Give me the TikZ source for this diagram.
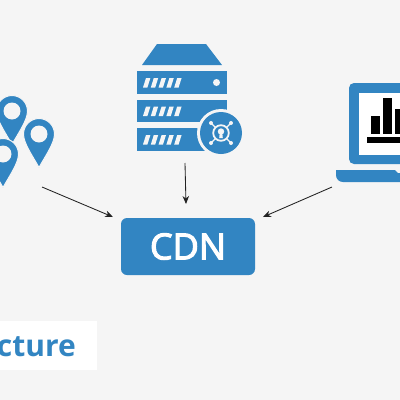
\documentclass[tikz,border=0pt]{standalone}
\usepackage{fontspec}
\setmainfont{Open Sans}
\newfontfamily\cdnfont[FakeBold=3]{Open Sans}
\definecolor{brandblue}{HTML}{3285C2}
\definecolor{pagebg}{HTML}{F5F5F5}
\definecolor{arrowgrey}{HTML}{222222}
\usetikzlibrary{arrows.meta}
\tikzset{
  conn/.style={draw=arrowgrey,line width=0.85pt,-{Stealth[length=8pt,width=6.5pt]}},
  blue/.style={fill=brandblue,draw=none},
  slatfill/.style={fill=pagebg,draw=none},
  pics/mappin/.style={code={
    \path[fill=brandblue,draw=pagebg,line width=1pt]
      (-15.5,0) .. controls (-15.5,-8.5) and (-8.5,-15.5) .. (0,-15.5)
      .. controls (8.5,-15.5) and (15.5,-8.5) .. (15.5,0)
      .. controls (15.5,9) and (7,21) .. (0,33.5)
      .. controls (-7,21) and (-15.5,9) .. cycle;
    \path[fill=pagebg] (0,0) circle (8.5);
  }},
  pics/slats/.style={code={
    \foreach \i in {0,1,2,3,4}{
      \path[slatfill] ({\i*7.8},9.5) -- ++(3,-9.5) -- ++(4.4,0) -- ++(-3,9.5) -- cycle;
    }
  }}
}
\begin{document}
\begin{tikzpicture}[x=1pt,y=-1pt]
\useasboundingbox (0,0) rectangle (400,400);
\clip (0,0) rectangle (400,400);
\path[fill=pagebg] (0,0) rectangle (400,400);
% pins
\pic at (12,111) {mappin};
\pic at (39,134) {mappin};
\pic at (3,154) {mappin};
% server
\path[blue] (157,44) -- (206,44) -- (222,65) -- (142,65) -- cycle;
\path[blue] (137,71) rectangle (227,94);
\path[blue] (137,100) rectangle (227,122);
\path[blue] (137,128) rectangle (227,151);
\pic at (143,78) {slats};
\pic at (143,106.5) {slats};
\pic at (143,135) {slats};
\path[fill=pagebg] (216.5,82.5) circle (3.5);
\path[fill=pagebg] (221,133) circle (24);
\path[blue] (221,133) circle (21);
\draw[pagebg,line width=1.8pt] (221,133) circle (7.8);
\foreach \a/\b in {1/1,1/-1,-1/1,-1/-1}{
  \draw[pagebg,line width=1.4pt] (221+\a*5.5,133+\b*5.5) -- (221+\a*10,133+\b*10);
  \path[fill=pagebg] (221+\a*10,133+\b*10) circle (2);
}
\path[fill=pagebg] (221,131.5) circle (3.2);
\path[fill=pagebg] (219.8,132) -- (222.2,132) -- (222.8,138) -- (219.2,138) -- cycle;
% laptop
\path[blue,rounded corners=5pt] (349,164) -- (349,83) -- (410,83) -- (410,164) -- cycle;
\path[fill=white] (359,93) rectangle (410,155);
\path[fill=black] (371,116) rectangle (380,134);
\path[fill=black] (383,98) rectangle (392,134);
\path[fill=black] (395,109) rectangle (404,134);
\path[fill=black] (367,137) rectangle (410,143);
\path[blue] (336,170) -- (395,170) -- (398,173) -- (410,173) -- (410,182) -- (343,182)
  .. controls (339,182) and (336,179) .. (336,175) -- cycle;
% label
\path[fill=white] (0,321) rectangle (97,370);
\node[text=brandblue,font=\bfseries\fontsize{30}{34}\selectfont,anchor=base east,inner sep=0pt] (lbl) at (76,356.5) {cture};
% CDN
\node[fill=brandblue,rounded corners=6pt,minimum width=134pt,minimum height=57pt,inner sep=0pt,
  text=white,font=\cdnfont\fontsize{36}{40}\selectfont] (cdn) at (188,246.5) {CDN};
\coordinate (pins) at (42,187);
\coordinate (server) at (185,163);
\coordinate (laptop) at (332,187);
\coordinate (cdnL) at (113,217);
\coordinate (cdnT) at (186,204);
\coordinate (cdnR) at (263,217);
\draw[conn] (pins) -- (cdnL);
\draw[conn] (server) -- (cdnT);
\draw[conn] (laptop) -- (cdnR);
\end{tikzpicture}
\end{document}
